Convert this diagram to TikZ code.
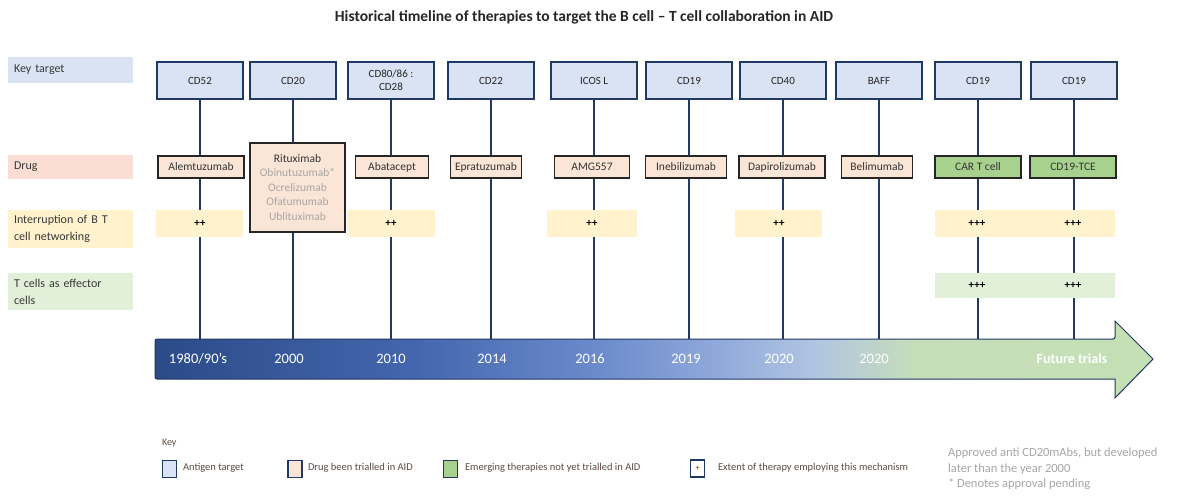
\documentclass[tikz,border=0pt]{standalone}
\usepackage{fontspec}
\setmainfont{Carlito}
\usetikzlibrary{backgrounds}
\definecolor{navy}{HTML}{203864}
\definecolor{ktblue}{HTML}{DAE3F3}
\definecolor{peach}{HTML}{FBE5D6}
\definecolor{labpeach}{HTML}{FADDD3}
\definecolor{yel}{HTML}{FFF2CC}
\definecolor{lgreen}{HTML}{E2F0D9}
\definecolor{dgreen}{HTML}{A9D18E}
\definecolor{dborder}{HTML}{262626}
\definecolor{gtext}{HTML}{A6A6A6}
\definecolor{ltext}{HTML}{5A4C44}
\definecolor{tlA}{HTML}{2B4A88}
\definecolor{tlB}{HTML}{4466AD}
\definecolor{tlC}{HTML}{6A8ACB}
\definecolor{tlD}{HTML}{8FA8DA}
\definecolor{tlE}{HTML}{B0C4E2}
\definecolor{tlF}{HTML}{C6DDBA}
\definecolor{tlG}{HTML}{C5E0B4}
\pgfdeclarehorizontalshading{tlshade}{100bp}{color(0bp)=(tlA); color(25bp)=(tlA); color(38bp)=(tlB); color(47bp)=(tlC); color(53bp)=(tlD); color(58bp)=(tlE); color(63bp)=(tlF); color(75bp)=(tlG); color(100bp)=(tlG)}
\begin{document}
\begin{tikzpicture}[x=1pt,y=-1pt,
  every node/.style={inner sep=0pt, outer sep=0pt},
  ktbox/.style={draw=navy, line width=1.2pt, fill=ktblue, minimum width=86pt, minimum height=37pt, align=center, font=\fontsize{11}{13}\selectfont, text=black!85},
  drugbox/.style={draw=dborder, line width=1.4pt, fill=peach, minimum height=22pt, font=\fontsize{11.5}{12}\selectfont, text=black!80},
  newdrug/.style={drugbox, fill=dgreen},
  rowlab/.style={inner xsep=6pt, text width=113pt, align=left, font=\fontsize{12}{17}\selectfont, text=black!78},
  band/.style={minimum height=27pt},
  plusmark/.style={font=\bfseries\fontsize{11}{12}\selectfont, text=black},
  yr/.style={text=white, font=\fontsize{14.5}{16}\selectfont},
  vline/.style={draw=navy, line width=1.1pt},
  legsq/.style={draw=navy, line width=1.2pt, minimum width=14pt, minimum height=17pt},
  legtxt/.style={anchor=west, font=\fontsize{10.5}{12}\selectfont, text=ltext},
  note/.style={anchor=west, font=\fontsize{12.5}{14}\selectfont, text=gtext}
]
\useasboundingbox (0,0) rectangle (1182,496);
\begin{pgfonlayer}{background}
\fill[white] (0,0) rectangle (1182,496);
\end{pgfonlayer}

% title
\node[font=\bfseries\fontsize{15.5}{17}\selectfont, text=black!85] (title) at (584,17) {Historical timeline of therapies to target the B cell – T cell collaboration in AID};

% row labels
\node[rowlab, fill=ktblue, minimum height=26pt] (lkt) at (70.5,70) {Key target};
\node[rowlab, fill=labpeach, minimum height=24pt] (ldrug) at (70.5,167) {Drug};
\node[rowlab, fill=yel, minimum height=38pt] (lint) at (70.5,229) {Interruption of B T\\cell networking};
\node[rowlab, fill=lgreen, minimum height=37pt] (lteff) at (70.5,291.5) {T cells as effector\\cells};

% key target boxes
\node[ktbox] (k1) at (200,80.5) {CD52};
\node[ktbox] (k2) at (293,80.5) {CD20};
\node[ktbox] (k3) at (391,80.5) {CD80/86 :\\CD28};
\node[ktbox] (k4) at (491,80.5) {CD22};
\node[ktbox] (k5) at (594,80.5) {ICOS L};
\node[ktbox] (k6) at (689,80.5) {CD19};
\node[ktbox] (k7) at (783,80.5) {CD40};
\node[ktbox] (k8) at (879,80.5) {BAFF};
\node[ktbox] (k9) at (978,80.5) {CD19};
\node[ktbox] (k10) at (1074,80.5) {CD19};

% drugs
\node[drugbox, minimum width=86pt] (d1) at (201,167) {Alemtuzumab};
\node[drugbox, minimum width=95pt, minimum height=89pt, align=center, font=\fontsize{11.5}{14.5}\selectfont] (d2) at (297.5,187.5) {\textcolor{black!80}{Rituximab}\\\textcolor{gtext}{Obinutuzumab*}\\\textcolor{gtext}{Ocrelizumab}\\\textcolor{gtext}{Ofatumumab}\\\textcolor{gtext}{Ublituximab}};
\node[drugbox, minimum width=73pt] (d3) at (392,167) {Abatacept};
\node[drugbox, minimum width=71pt] (d4) at (486,167) {Epratuzumab};
\node[drugbox, minimum width=75pt] (d5) at (592,167) {AMG557};
\node[drugbox, minimum width=81pt] (d6) at (686,167) {Inebilizumab};
\node[drugbox, minimum width=86pt] (d7) at (782,167) {Dapirolizumab};
\node[drugbox, minimum width=71pt] (d8) at (877,167) {Belimumab};
\node[newdrug, minimum width=86pt] (d9) at (978,167) {CAR T cell};
\node[newdrug, minimum width=86pt] (d10) at (1073,167) {CD19-TCE};

% interruption bands
\node[band, fill=yel, minimum width=87pt] (i1) at (199.5,223.5) {};
\node[band, fill=yel, minimum width=88pt] (i3) at (391,223.5) {};
\node[band, fill=yel, minimum width=90pt] (i5) at (592,223.5) {};
\node[band, fill=yel, minimum width=87pt] (i7) at (778,223.5) {};
\node[band, fill=yel, minimum width=180pt] (i9) at (1025,223.5) {};
\node[plusmark] (p1) at (200,223.5) {++};
\node[plusmark] (p3) at (391,223.5) {++};
\node[plusmark] (p5) at (592,223.5) {++};
\node[plusmark] (p7) at (779,223.5) {++};
\node[plusmark] (p9) at (977,223.5) {+++};
\node[plusmark] (p10) at (1073,223.5) {+++};

% T cell effector band
\node[band, fill=lgreen, minimum width=180pt, minimum height=25pt] (t9) at (1025,285.5) {};
\node[plusmark] (q9) at (977,285.5) {+++};
\node[plusmark] (q10) at (1073,285.5) {+++};

% timeline arrow
\coordinate (atop) at (0,339);
\shadedraw[shading=tlshade, draw=navy, line width=1pt, rounded corners=2pt] (155,339) -- (1115,339) [sharp corners] -- (1115,321) -- (1153,359) -- (1115,398) -- (1115,379) [rounded corners=2pt] -- (155,379) -- cycle;

\node[yr] (y1) at (198,359) {1980/90's};
\node[yr] (y2) at (289,359) {2000};
\node[yr] (y3) at (391,359) {2010};
\node[yr] (y4) at (492,359) {2014};
\node[yr] (y5) at (590,359) {2016};
\node[yr] (y6) at (686,359) {2019};
\node[yr] (y7) at (779,359) {2020};
\node[yr] (y8) at (874,359) {2020};
\node[yr, font=\bfseries\fontsize{14}{16}\selectfont] (y9) at (1072,359) {Future trials};

% vertical connectors
\begin{pgfonlayer}{background}
\foreach \i in {1,...,10} {
  \draw[vline] (k\i.south) -- (k\i.south |- atop);
}
\end{pgfonlayer}

% legend
\node[anchor=west, font=\fontsize{10}{11}\selectfont, text=ltext] (key) at (162,443) {Key};
\node[legsq, fill=ktblue] (lg1) at (169.5,469) {};
\node[legtxt] (lt1) at (183,468) {Antigen target};
\node[legsq, fill=peach] (lg2) at (295,469) {};
\node[legtxt] (lt2) at (308,468) {Drug been trialled in AID};
\node[legsq, fill=dgreen] (lg3) at (450.5,469) {};
\node[legtxt] (lt3) at (465,468) {Emerging therapies not yet trialled in AID};
\node[legsq, fill=white, font=\bfseries\fontsize{8}{9}\selectfont, text=orange!70!black] (lg4) at (697.5,468.5) {+};
\node[legtxt] (lt4) at (718,468) {Extent of therapy employing this mechanism};

\node[note] (n1) at (948,453) {Approved anti CD20mAbs, but developed};
\node[note] (n2) at (948,469) {later than the year 2000};
\node[note] (n3) at (948,484) {* Denotes approval pending};
\end{tikzpicture}
\end{document}
